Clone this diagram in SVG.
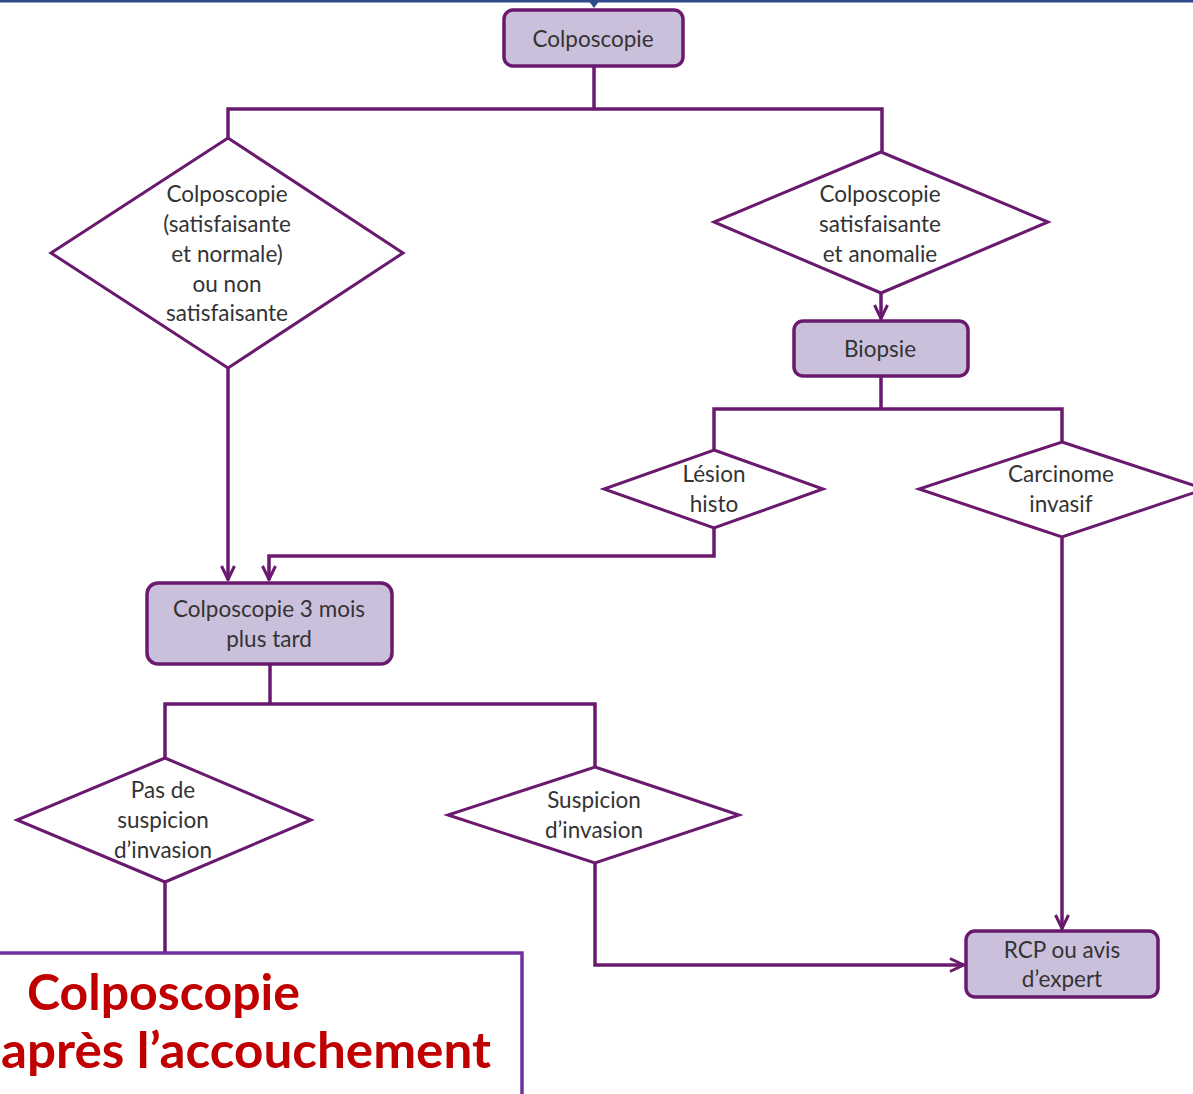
<svg xmlns="http://www.w3.org/2000/svg" width="1193" height="1094" viewBox="0 0 1193 1094">
<style>
.box{fill:#cbc0dc;stroke:#6a1a6e;stroke-width:3.5}
.dia{fill:#fff;stroke:#6a1a6e;stroke-width:3}
.con{fill:none;stroke:#6a1a6e;stroke-width:3.5}
.t{font-family:Lato,"Open Sans",sans-serif;font-size:22.5px;fill:#333;text-anchor:middle}
.big{font-family:Lato,"Liberation Sans",sans-serif;font-weight:bold;font-size:50px;fill:#c00000}
</style>
<defs>
<marker id="ar" viewBox="0 0 16 16" refX="15" refY="8" markerWidth="16" markerHeight="16" markerUnits="userSpaceOnUse" orient="auto">
<path d="M1,1.5 L14.5,8 L1,14.5" fill="none" stroke="#6a1a6e" stroke-width="3"/>
</marker>
</defs>
<rect x="0" y="0" width="1193" height="1094" fill="#fff"/>
<rect x="0" y="0" width="1193" height="2.5" fill="#2f4a8a"/>
<path d="M588,0 L600,0 L594,8 Z" fill="#2f4a8a"/>
<g id="connectors">
<path class="con" d="M594,66 V109 M228,138 V109 H882 V152"/>
<path class="con" d="M881,293 V319" marker-end="url(#ar)"/>
<path class="con" d="M881,376 V409 M714,450 V409 H1062 V442"/>
<path class="con" d="M228,368 V580" marker-end="url(#ar)"/>
<path class="con" d="M714,528 V556 H269 V580" marker-end="url(#ar)"/>
<path class="con" d="M270,664 V704 M165,758 V704 H595 V767"/>
<path class="con" d="M595,863 V965 H964" marker-end="url(#ar)"/>
<path class="con" d="M1062,537 V929" marker-end="url(#ar)"/>
<path class="con" d="M165,882 V955"/>
</g>
<g id="n1"><rect class="box" x="504" y="10" width="179" height="56" rx="9"/><text class="t" x="593" y="47">Colposcopie</text></g>
<g id="n2"><polygon class="dia" points="228,138 403,253 228,368 51,253"/>
<text class="t" x="227" y="202">Colposcopie</text><text class="t" x="227" y="232">(satisfaisante</text><text class="t" x="227" y="262">et normale)</text><text class="t" x="227" y="292">ou non</text><text class="t" x="227" y="321">satisfaisante</text></g>
<g id="n3"><polygon class="dia" points="881,152 1048,222 881,293 714,222"/>
<text class="t" x="880" y="202">Colposcopie</text><text class="t" x="880" y="232">satisfaisante</text><text class="t" x="880" y="262">et anomalie</text></g>
<g id="n4"><rect class="box" x="794" y="321" width="174" height="55" rx="9"/><text class="t" x="880" y="357">Biopsie</text></g>
<g id="n5"><polygon class="dia" points="714,450 823,489 714,528 604,489"/>
<text class="t" x="714" y="482">Lésion</text><text class="t" x="714" y="512">histo</text></g>
<g id="n6"><polygon class="dia" points="1062,442 1205,489 1062,537 919,489"/>
<text class="t" x="1061" y="482">Carcinome</text><text class="t" x="1061" y="512">invasif</text></g>
<g id="n7"><rect class="box" x="147" y="583" width="245" height="81" rx="11"/>
<text class="t" x="269" y="617">Colposcopie 3 mois</text><text class="t" x="269" y="647">plus tard</text></g>
<g id="n8"><polygon class="dia" points="165,758 311,820 165,882 17,820"/>
<text class="t" x="163" y="798">Pas de</text><text class="t" x="163" y="828">suspicion</text><text class="t" x="163" y="858">d’invasion</text></g>
<g id="n9"><polygon class="dia" points="595,767 739,815 595,863 448,815"/>
<text class="t" x="594" y="808">Suspicion</text><text class="t" x="594" y="838">d’invasion</text></g>
<g id="n10"><rect class="box" x="966" y="931" width="192" height="66" rx="9"/>
<text class="t" x="1062" y="958">RCP ou avis</text><text class="t" x="1062" y="987">d’expert</text></g>
<g id="n11"><rect x="-5" y="953" width="527" height="145" fill="#fff" stroke="#7030a0" stroke-width="3.5"/>
<text class="big" x="27" y="1010" textLength="273" lengthAdjust="spacingAndGlyphs">Colposcopie</text><text class="big" x="1" y="1068" textLength="490" lengthAdjust="spacingAndGlyphs">après l’accouchement</text></g>
</svg>
